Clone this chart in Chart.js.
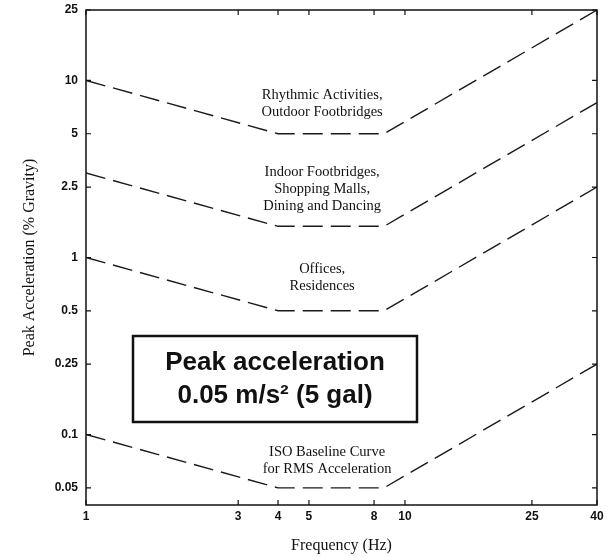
<!DOCTYPE html>
<html>
<head>
<meta charset="utf-8">
<script src="https://cdn.jsdelivr.net/npm/chart.js@4.4.0/dist/chart.umd.min.js"></script>
<style>
    body { margin: 0; background: #fff; }
    #wrap { width: 608px; height: 557px; position: relative; }
</style>
</head>
<body>
<div id="wrap"><canvas id="myChart"></canvas></div>
<script>
// frequency breakpoints (Hz) shared by all curves
const freqs = [1, 4, 8.6, 40];

// peak acceleration (% gravity) at each breakpoint
const rhythmic = [10, 5, 5, 25];
const indoor = [3, 1.5, 1.5, 7.5];
const offices = [1, 0.5, 0.5, 2.5];
const isoBaseline = [0.1, 0.05, 0.05, 0.25];

const xTicks = [1, 3, 4, 5, 8, 10, 25, 40];
const yTicks = [0.05, 0.1, 0.25, 0.5, 1, 2.5, 5, 10, 25];

const curveLabels = [
    { x: 5.5, y: 8.3, lines: ['Rhythmic Activities,', 'Outdoor Footbridges'] },
    { x: 5.5, y: 3.02, lines: ['Indoor Footbridges,', 'Shopping Malls,', 'Dining and Dancing'] },
    { x: 5.5, y: 0.857, lines: ['Offices,', 'Residences'] },
    { x: 5.7, y: 0.08, lines: ['ISO Baseline Curve', 'for RMS Acceleration'] }
];

const toPoints = (vals) => vals.map((v, i) => ({ x: freqs[i], y: v }));

const curve = (vals) => ({
    data: toPoints(vals),
    borderColor: '#1a1a1a',
    borderWidth: 1.4,
    borderDash: [20, 8],
    pointRadius: 0,
    tension: 0,
    fill: false
});

// frame + inward tick marks + curve labels + annotation box
const decorations = {
    id: 'decorations',
    afterDraw(chart) {
        const { ctx, chartArea: a, scales: { x, y } } = chart;
        ctx.save();

        ctx.strokeStyle = '#111';
        ctx.lineWidth = 1.5;
        ctx.strokeRect(a.left, a.top, a.right - a.left, a.bottom - a.top);

        // inward ticks on all four sides
        ctx.lineWidth = 1.2;
        const len = 5;
        ctx.beginPath();
        xTicks.forEach(v => {
            const px = x.getPixelForValue(v);
            ctx.moveTo(px, a.bottom); ctx.lineTo(px, a.bottom - len);
            ctx.moveTo(px, a.top); ctx.lineTo(px, a.top + len);
        });
        yTicks.forEach(v => {
            const py = y.getPixelForValue(v);
            ctx.moveTo(a.left, py); ctx.lineTo(a.left + len, py);
            ctx.moveTo(a.right, py); ctx.lineTo(a.right - len, py);
        });
        ctx.stroke();

        ctx.fillStyle = '#111';
        ctx.font = '14.5px "Liberation Serif", "DejaVu Serif", serif';
        ctx.textAlign = 'center';
        ctx.textBaseline = 'middle';
        curveLabels.forEach(lbl => {
            const px = x.getPixelForValue(lbl.x);
            const py = y.getPixelForValue(lbl.y);
            lbl.lines.forEach((t, i) => ctx.fillText(t, px, py + i * 17));
        });

        // annotation box
        const bx = 133, by = 336, bw = 284, bh = 86;
        ctx.fillStyle = '#fff';
        ctx.fillRect(bx, by, bw, bh);
        ctx.strokeStyle = '#111';
        ctx.lineWidth = 2.5;
        ctx.strokeRect(bx, by, bw, bh);
        ctx.fillStyle = '#111';
        ctx.font = 'bold 26px "Liberation Sans", Arial, sans-serif';
        ctx.fillText('Peak acceleration', bx + bw / 2, by + 27);
        ctx.fillText('0.05 m/s² (5 gal)', bx + bw / 2, by + 60);

        ctx.restore();
    }
};

const tickFont = { family: '"Liberation Sans", Arial, sans-serif', size: 12, weight: 'bold' };
const titleFont = { family: '"Liberation Serif", "DejaVu Serif", serif', size: 16 };

new Chart(document.getElementById('myChart'), {
    type: 'line',
    data: {
        datasets: [curve(rhythmic), curve(indoor), curve(offices), curve(isoBaseline)]
    },
    options: {
        responsive: true,
        maintainAspectRatio: false,
        animation: false,
        layout: { padding: { top: 10, right: 11, left: 0, bottom: 0 } },
        plugins: {
            legend: { display: false },
            tooltip: { enabled: false }
        },
        scales: {
            x: {
                type: 'logarithmic',
                min: 1,
                max: 40,
                afterBuildTicks: (scale) => { scale.ticks = xTicks.map(v => ({ value: v })); },
                afterFit: (scale) => {
                    scale.height = 52;
                    scale.paddingLeft = 0;
                    scale.paddingRight = 0;
                },
                ticks: {
                    autoSkip: false,
                    maxRotation: 0,
                    padding: 4,
                    color: '#111',
                    font: tickFont,
                    callback: (v) => String(v)
                },
                grid: { display: false, drawTicks: false },
                border: { display: false },
                title: {
                    display: true,
                    text: 'Frequency (Hz)',
                    color: '#111',
                    font: titleFont,
                    padding: { top: 4, bottom: 2 }
                }
            },
            y: {
                type: 'logarithmic',
                min: 0.04,
                max: 25,
                afterBuildTicks: (scale) => { scale.ticks = yTicks.map(v => ({ value: v })); },
                afterFit: (scale) => {
                    scale.width = 86;
                    scale.paddingTop = 0;
                    scale.paddingBottom = 0;
                },
                ticks: {
                    autoSkip: false,
                    padding: 8,
                    color: '#111',
                    font: tickFont,
                    callback: (v) => String(v)
                },
                grid: { display: false, drawTicks: false },
                border: { display: false },
                title: {
                    display: true,
                    text: 'Peak Acceleration (% Gravity)',
                    color: '#111',
                    font: titleFont,
                    padding: { top: 20, bottom: 0 }
                }
            }
        }
    },
    plugins: [decorations]
});
</script>
</body>
</html>
